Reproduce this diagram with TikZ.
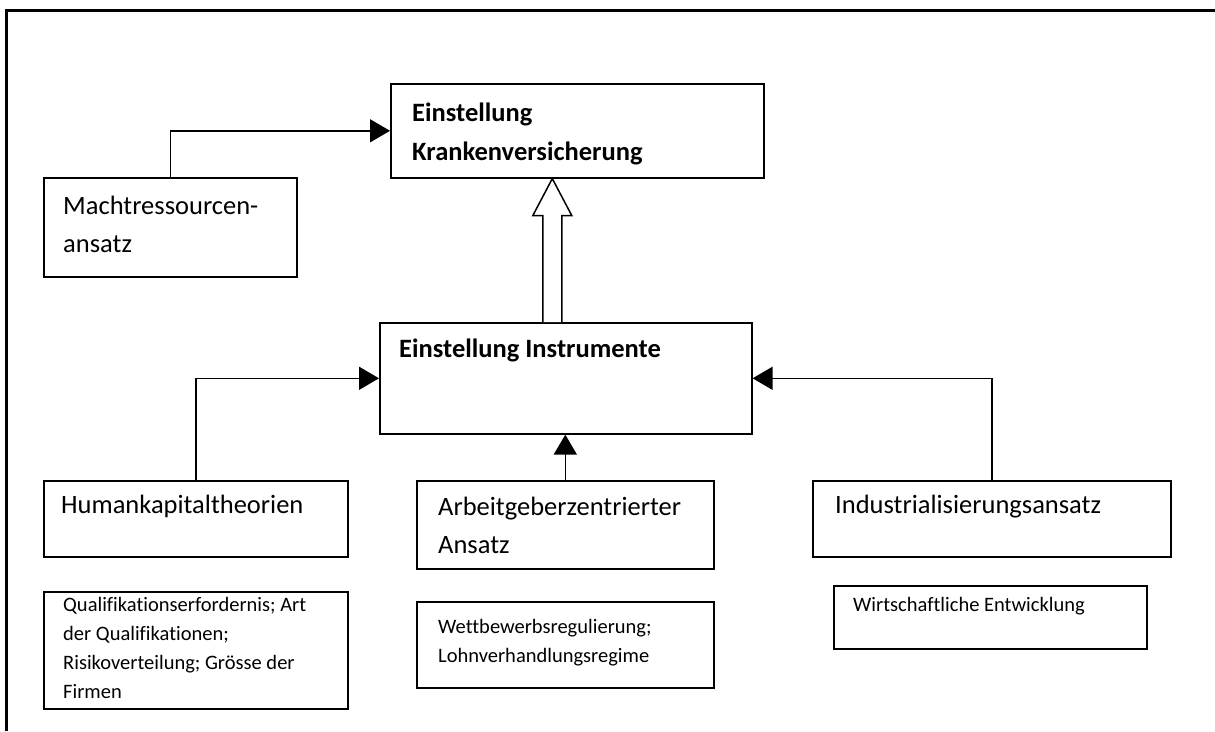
\documentclass[tikz,border=0pt]{standalone}
\usepackage{fontspec}
\setmainfont{Carlito}[Ligatures=NoCommon, RawFeature={-liga;-dlig;-clig}]
\usetikzlibrary{arrows.meta,calc}

\begin{document}
\begin{tikzpicture}[x=1pt,y=-1pt,
  frame/.style={line width=2.2pt},
  box/.style={draw, line width=1.6pt, inner sep=0pt, anchor=north west},
  big/.style={anchor=base west, inner sep=0pt, font=\fontsize{26.5}{39}\selectfont},
  bigb/.style={anchor=base west, inner sep=0pt, font=\fontsize{26.5}{39}\selectfont\bfseries},
  small/.style={anchor=base west, inner sep=0pt, font=\fontsize{20.5}{29}\selectfont},
  link/.style={line width=1.5pt, -{Triangle[length=20pt,width=23pt]}},
  fat/.style={draw, line width=1.5pt, fill=white, line join=miter}
]
\useasboundingbox (0,0) rectangle (1215,731);

% page frame (only top and left edges are visible)
\draw[frame] (6.5,731) -- (6.5,10.5) -- (1215,10.5);

% boxes
\node[box, minimum width=373pt, minimum height=94pt]  (kv)  at (390,83)  {};
\node[box, minimum width=253pt, minimum height=99pt]  (mr)  at (43,177)  {};
\node[box, minimum width=372pt, minimum height=111pt] (ins) at (379,322) {};
\node[box, minimum width=304pt, minimum height=76pt]  (hk)  at (43,480)  {};
\node[box, minimum width=297pt, minimum height=88pt]  (ab)  at (416,480) {};
\node[box, minimum width=358pt, minimum height=76pt]  (ind) at (812,480) {};
\node[box, minimum width=304pt, minimum height=117pt] (ql)  at (43,591)  {};
\node[box, minimum width=297pt, minimum height=86pt]  (wb)  at (416,601) {};
\node[box, minimum width=313pt, minimum height=63pt]  (wi)  at (833,585) {};

% box texts
\node[bigb] (kv-1) at (412,121) {Einstellung};
\node[bigb] (kv-2) at (412,160) {Krankenversicherung};
\node[big]  (mr-1) at (63,214)  {Machtressourcen-};
\node[big]  (mr-2) at (63,252)  {ansatz};
\node[bigb] (ins-1) at (399,357) {Einstellung Instrumente};
\node[big]  (hk-1) at (61,513)  {Humankapitaltheorien};
\node[big]  (ab-1) at (438,515) {Arbeitgeberzentrierter};
\node[big]  (ab-2) at (438,553) {Ansatz};
\node[big]  (ind-1) at (835,513) {Industrialisierungsansatz};
\node[small] (ql-1) at (63,611) {Qualifikationserfordernis; Art};
\node[small] (ql-2) at (63,640) {der Qualifikationen;};
\node[small] (ql-3) at (63,669) {Risikoverteilung; Grösse der};
\node[small] (ql-4) at (63,698) {Firmen};
\node[small] (wb-1) at (438,633) {Wettbewerbsregulierung;};
\node[small] (wb-2) at (438,662) {Lohnverhandlungsregime};
\node[small] (wi-1) at (853,611) {Wirtschaftliche Entwicklung};

% connectors
\draw[link] (mr.north) |- (kv.west);
\draw[link] (hk.north) |- (ins.west);
\draw[link] (ind.north) |- (ins.east);
\draw[link] (ab.north) -- (ab.north |- ins.south);

% hollow block arrow from the instruments box up to the health insurance box
\coordinate (tip) at ($(kv.south)+(-25,0)$);
\draw[fat] ($(ins.north)+(-23,0)$) -- ($(tip)+(-9.5,37)$) -- ($(tip)+(-19.5,37)$)
  -- (tip) -- ($(tip)+(19.5,37)$) -- ($(tip)+(9.5,37)$) -- ($(ins.north)+(-4,0)$);
\end{tikzpicture}
\end{document}
